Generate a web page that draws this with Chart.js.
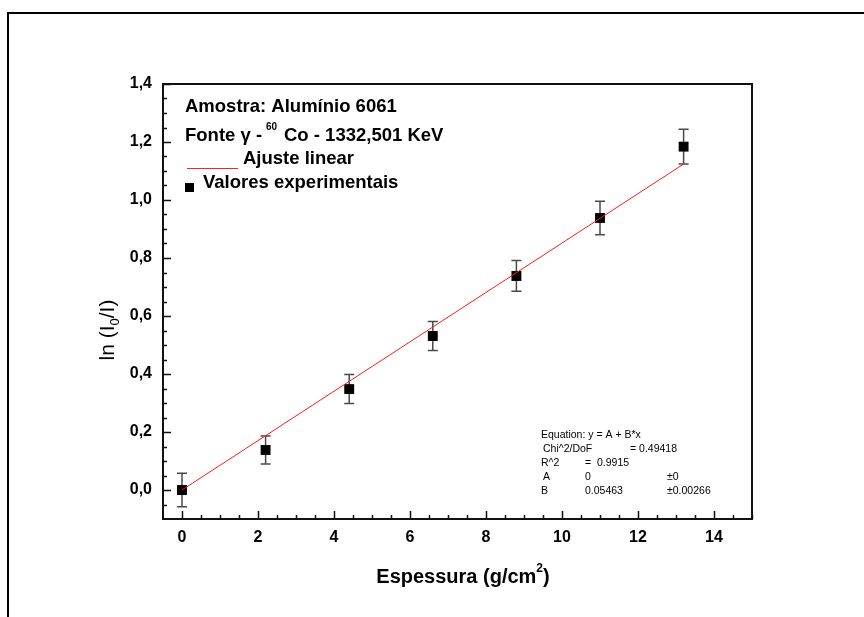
<!DOCTYPE html>
<html>
<head>
<meta charset="utf-8">
<script src="https://cdn.jsdelivr.net/npm/chart.js@4/dist/chart.umd.min.js"></script>
<style>
  html, body { margin: 0; padding: 0; background: #fff; }
  #wrap { width: 864px; height: 617px; }
</style>
</head>
<body>
<div id="wrap"><canvas id="c" width="864" height="617"></canvas></div>
<script>
// espessura (g/cm2) e ln(I0/I)
const thickness = [0, 2.2, 4.4, 6.6, 8.8, 11.0, 13.2];
const lnRatio = [0.0, 0.138, 0.348, 0.531, 0.738, 0.938, 1.184];
const lnError = [0.058, 0.048, 0.05, 0.05, 0.053, 0.058, 0.06];

// ajuste linear (extremos da reta)
const fitX = [0, 13.2];
const fitY = [0, 1.124];

const xTicks = [0, 2, 4, 6, 8, 10, 12, 14];
const yTicks = [0, 0.2, 0.4, 0.6, 0.8, 1.0, 1.2, 1.4];

const statsLines = [
  [['Equation: y = A + B*x', 0]],
  [['Chi^2/DoF', 2], ['= 0.49418', 89]],
  [['R^2', 0], ['=  0.9915', 44]],
  [['A', 2], ['0', 44], ['\u00b10', 126]],
  [['B', 0], ['0.05463', 44], ['\u00b10.00266', 126]]
];

const FONT = "'Liberation Sans', Arial, sans-serif";

const decor = {
  id: 'decor',
  beforeDatasetsDraw(chart) {
    const { ctx } = chart;
    const xs = chart.scales.x, ys = chart.scales.y;
    // barras de erro
    ctx.save();
    ctx.strokeStyle = '#4a4a4a';
    ctx.lineWidth = 1.5;
    thickness.forEach((x, i) => {
      const px = xs.getPixelForValue(x);
      const top = ys.getPixelForValue(lnRatio[i] + lnError[i]);
      const bot = ys.getPixelForValue(lnRatio[i] - lnError[i]);
      ctx.beginPath();
      ctx.moveTo(px, top); ctx.lineTo(px, bot);
      ctx.moveTo(px - 5, top); ctx.lineTo(px + 5, top);
      ctx.moveTo(px - 5, bot); ctx.lineTo(px + 5, bot);
      ctx.stroke();
    });
    ctx.restore();
  },
  afterDraw(chart) {
    const { ctx, chartArea: a } = chart;
    const xs = chart.scales.x, ys = chart.scales.y;
    ctx.save();

    // moldura externa
    ctx.strokeStyle = '#000';
    ctx.lineWidth = 2;
    ctx.beginPath();
    ctx.moveTo(8, 617); ctx.lineTo(8, 13); ctx.lineTo(864, 13);
    ctx.stroke();

    // caixa do grafico
    ctx.strokeStyle = '#111';
    ctx.lineWidth = 2;
    ctx.strokeRect(a.left, a.top, a.right - a.left, a.bottom - a.top);

    // ticks para dentro
    ctx.lineWidth = 1.5;
    ctx.beginPath();
    for (let v = 0; v <= 15.001; v += 0.5) {
      const px = Math.round(xs.getPixelForValue(v)) + 0.5;
      const len = (Math.abs(v % 2) < 1e-6) ? 8 : 4;
      ctx.moveTo(px, a.bottom); ctx.lineTo(px, a.bottom - len);
    }
    for (let k = -1; k <= 28; k++) {
      const v = k * 0.05;
      const py = Math.round(ys.getPixelForValue(v)) + 0.5;
      const len = (k % 4 === 0) ? 8 : 4;
      ctx.moveTo(a.left, py); ctx.lineTo(a.left + len, py);
    }
    ctx.stroke();

    ctx.fillStyle = '#000';
    ctx.textBaseline = 'middle';
    ctx.textAlign = 'left';

    // titulo eixo x
    const t1 = 'Espessura (g/cm', t2 = ')';
    ctx.font = 'bold 20px ' + FONT;
    const w1 = ctx.measureText(t1).width;
    ctx.font = 'bold 12px ' + FONT;
    const ws = ctx.measureText('2').width;
    ctx.font = 'bold 20px ' + FONT;
    const w2 = ctx.measureText(t2).width;
    let sx = 463 - (w1 + ws + w2) / 2;
    ctx.fillText(t1, sx, 577);
    ctx.font = 'bold 12px ' + FONT;
    ctx.fillText('2', sx + w1, 569);
    ctx.font = 'bold 20px ' + FONT;
    ctx.fillText(t2, sx + w1 + ws, 577);

    // titulo eixo y
    ctx.save();
    ctx.translate(108, 330);
    ctx.rotate(-Math.PI / 2);
    ctx.font = '21px ' + FONT;
    const a1 = 'ln (I', a3 = '/I)';
    const aw1 = ctx.measureText(a1).width;
    const aw3 = ctx.measureText(a3).width;
    ctx.font = '13px ' + FONT;
    const aw2 = ctx.measureText('0').width;
    let ax = -(aw1 + aw2 + aw3) / 2;
    ctx.font = '21px ' + FONT;
    ctx.fillText(a1, ax, 0);
    ctx.font = '13px ' + FONT;
    ctx.fillText('0', ax + aw1, 7);
    ctx.font = '21px ' + FONT;
    ctx.fillText(a3, ax + aw1 + aw2, 0);
    ctx.restore();

    // legenda
    ctx.font = 'bold 18.5px ' + FONT;
    ctx.fillText('Amostra: Alum\u00ednio 6061', 185, 107);
    ctx.fillText('Fonte \u03b3 -', 185, 136);
    ctx.font = 'bold 10px ' + FONT;
    ctx.fillText('60', 266, 127);
    ctx.font = 'bold 18.5px ' + FONT;
    ctx.fillText('Co - 1332,501 KeV', 284, 136);
    ctx.fillText('Ajuste linear', 243, 159);
    ctx.fillText('Valores experimentais', 203, 183);
    ctx.strokeStyle = '#ff2020';
    ctx.lineWidth = 1;
    ctx.beginPath();
    ctx.moveTo(187, 168.5); ctx.lineTo(238, 168.5);
    ctx.stroke();
    ctx.fillRect(185, 183, 9, 9);

    // estatisticas do ajuste
    ctx.font = '10.5px ' + FONT;
    statsLines.forEach((row, i) => {
      row.forEach(([txt, dx]) => {
        ctx.fillText(txt, 541 + dx, 435 + i * 14);
      });
    });

    ctx.restore();
  }
};

new Chart(document.getElementById('c'), {
  type: 'scatter',
  data: {
    datasets: [
      {
        label: 'Ajuste linear',
        data: fitX.map((x, i) => ({ x, y: fitY[i] })),
        showLine: true,
        borderColor: '#ff1a1a',
        borderWidth: 1,
        pointRadius: 0,
        fill: false
      },
      {
        label: 'Valores experimentais',
        data: thickness.map((x, i) => ({ x, y: lnRatio[i] })),
        pointStyle: 'rect',
        pointRadius: 7,
        backgroundColor: '#000',
        borderColor: '#000',
        borderWidth: 0
      }
    ]
  },
  options: {
    responsive: false,
    animation: false,
    layout: { padding: { left: 0, top: 84, right: 112, bottom: 0 } },
    plugins: {
      legend: { display: false },
      tooltip: { enabled: false }
    },
    scales: {
      x: {
        type: 'linear',
        min: -0.5,
        max: 15,
        grid: { display: false, drawTicks: false },
        border: { display: false },
        afterBuildTicks: (s) => { s.ticks = xTicks.map((v) => ({ value: v })); },
        afterFit: (s) => { s.height = 98; },
        ticks: {
          padding: 9,
          color: '#000',
          font: { family: FONT, size: 16, weight: 'bold' },
          callback: (v) => String(v)
        }
      },
      y: {
        type: 'linear',
        min: -0.1,
        max: 1.4,
        grid: { display: false, drawTicks: false },
        border: { display: false },
        afterBuildTicks: (s) => { s.ticks = yTicks.map((v) => ({ value: v })); },
        afterFit: (s) => { s.width = 163; },
        ticks: {
          padding: 11,
          color: '#000',
          font: { family: FONT, size: 16, weight: 'bold' },
          callback: (v) => Number(v).toFixed(1).replace('.', ',')
        }
      }
    }
  },
  plugins: [decor]
});
</script>
</body>
</html>
